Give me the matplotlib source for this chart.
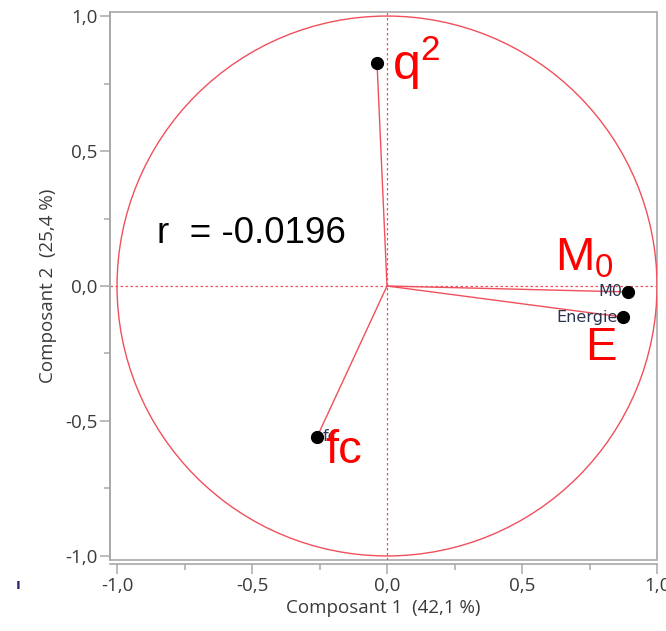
import matplotlib
matplotlib.use("Agg")
import matplotlib.pyplot as plt
import numpy as np
from matplotlib.patches import Circle, Rectangle
from matplotlib.ticker import MultipleLocator, FuncFormatter

# Loadings on the first two principal components
variables = ["q2", "M0", "Energie", "fc"]
comp1 = [-0.037, 0.893, 0.874, -0.259]
comp2 = [0.826, -0.022, -0.115, -0.559]
point_labels = ["", "M0", "Energie", "fc"]
big_labels = [r"$\mathregular{q^2}$", r"$\mathregular{M_0}$", "E", "fc"]
big_label_pos = [(0.019, 0.763), (0.622, 0.059), (0.733, -0.274), (-0.23, -0.656)]
corr_text = "r  = -0.0196"
xlabel = "Composant 1  (42,1 %)"
ylabel = "Composant 2  (25,4 %)"

RED = "#f0505c"
GRAY = "#a8a8a8"
TXT = "#3a3a3a"

plt.rcParams["font.family"] = ["Open Sans", "DejaVu Sans"]

fig = plt.figure(figsize=(6.66, 6.31), dpi=100)
ax = fig.add_axes([110 / 666, 1 - 560 / 631, 547 / 666, 548 / 631])
ax.set_xlim(-1.026, 1.0)
ax.set_ylim(-1.015, 1.015)

# unit circle and reference lines
ax.add_patch(Circle((0, 0), 1.0, fill=False, edgecolor=RED, lw=1.0, zorder=2))
ax.axhline(0, color=RED, lw=0.9, ls=(0, (2, 2)), zorder=1)
ax.axvline(0, color=RED, lw=0.9, ls=(0, (2, 2)), zorder=1)

# vectors and points
for x, y in zip(comp1, comp2):
    ax.plot([0, x], [0, y], color=RED, lw=1.0, zorder=3)
ax.plot(comp1, comp2, "o", color="black", ms=8.5, zorder=4)

# small variable names next to points
for x, y, lab in zip(comp1, comp2, point_labels):
    if not lab:
        continue
    if x > 0:
        ax.annotate(lab, (x, y), xytext=(-4, 0), textcoords="offset points",
                    ha="right", va="center", fontsize=11.5, color="#2a3550",
                    family="DejaVu Sans", zorder=5)
    else:
        ax.annotate(lab, (x, y), xytext=(4, 0), textcoords="offset points",
                    ha="left", va="center", fontsize=11.5, color="#2a3550",
                    family="DejaVu Sans", zorder=5)

# large red annotations
for lab, (tx, ty) in zip(big_labels, big_label_pos):
    size = 36 if lab.startswith(r"$\mathregular{q") else 34
    ax.text(tx, ty, lab, color="#ff0000", fontsize=size, ha="left",
            va="baseline", family="Liberation Sans", zorder=6)

ax.text(-0.852, 0.159, corr_text, color="black", fontsize=26.5,
        ha="left", va="baseline", family="Liberation Sans", zorder=6)

# frame
for s in ["top", "right"]:
    ax.spines[s].set_visible(False)
ax.add_patch(Rectangle((0, 0), 1, 1, transform=ax.transAxes, fill=False,
                       edgecolor=GRAY, lw=1.2, clip_on=False, zorder=0))
ax.spines["left"].set_color(GRAY)
ax.spines["left"].set_linewidth(1.2)
ax.spines["bottom"].set_color(GRAY)
ax.spines["bottom"].set_linewidth(1.2)
ax.spines["bottom"].set_position(("outward", 3))

fmt = FuncFormatter(lambda v, p: f"{v:.1f}".replace(".", ","))
for axis in (ax.xaxis, ax.yaxis):
    axis.set_major_locator(MultipleLocator(0.5))
    axis.set_minor_locator(MultipleLocator(0.25))
    axis.set_major_formatter(fmt)
ax.tick_params(which="major", length=7, width=1.1, color=GRAY,
               labelsize=13.5, labelcolor=TXT, pad=2)
ax.tick_params(which="minor", length=4, width=1.1, color=GRAY)

fig.canvas.draw()
for t in ax.xaxis.get_major_ticks() + ax.yaxis.get_major_ticks():
    if abs(t.get_loc()) < 1e-9:
        t.tick1line.set_color(RED)

ax.set_xlabel(xlabel, fontsize=13.5, color=TXT, labelpad=3)
ax.set_ylabel(ylabel, fontsize=13.5, color=TXT, labelpad=6)

fig.text(18 / 666, 1 - 585 / 631, "ı", fontsize=11, color="#3a2070",
         ha="center", va="center", fontweight="bold")

fig.savefig("out.png", dpi=100)
